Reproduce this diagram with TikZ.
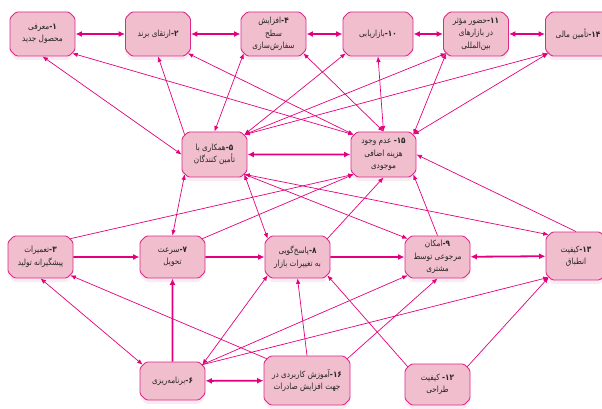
\documentclass[tikz,border=0pt]{standalone}
\usepackage{fontspec}
\usetikzlibrary{arrows.meta, shapes.misc, shadows}
\newfontfamily\arabicfont[Script=Arabic, FakeStretch=0.86]{DejaVu Sans}
\TeXXeTstate=1
\definecolor{boxfill}{RGB}{240,190,205}
\definecolor{boxline}{RGB}{222,40,140}
\definecolor{linkcol}{RGB}{228,0,124}
\newcommand{\fa}[1]{\beginR #1\endR}
\newcommand{\nr}[1]{\textbf{\beginL #1\endL-}}

\begin{document}
\begin{tikzpicture}[x=1pt, y=-1pt, >={Latex[length=5.5pt,width=4.5pt]},
    factor/.style={chamfered rectangle, chamfered rectangle xsep=3pt,
        chamfered rectangle ysep=3pt, rounded corners=1.5pt,
        draw=boxline, fill=boxfill, line width=0.9pt,
        minimum width=65pt, minimum height=44pt, inner sep=1pt,
        align=center, text=black!85,
        font=\arabicfont\fontsize{8.5}{12.5}\selectfont,
        drop shadow={shadow xshift=0pt, shadow yshift=-4pt, fill=boxfill, opacity=.3}},
    mainlink/.style={line width=1.8pt, linkcol, >={Latex[length=6.5pt,width=6pt]}},
    sidelink/.style={line width=0.7pt, linkcol}]
    \useasboundingbox (0,0) rectangle (602,409);

    % top row
    \node[factor] (n1) at (42.5,34) {\fa{\nr{۱}معرفی}\\\fa{محصول جدید}};
    \node[factor] (n2) at (158,34) {\fa{\nr{۲}ارتقای برند}};
    \node[factor] (n4) at (273.5,34) {\fa{\nr{۴}افزایش}\\\fa{سطح}\\\fa{سفارش‌سازی}};
    \node[factor, minimum width=70pt] (n10) at (378,34) {\fa{\nr{۱۰}بازاریابی}};
    \node[factor] (n11) at (476,34) {\fa{\nr{۱۱}حضور مؤثر}\\\fa{در بازارهای}\\\fa{بین‌المللی}};
    \node[factor] (n14) at (578,34) {\fa{\nr{۱۴}تأمین مالی}};

    % middle row
    \node[factor, minimum height=45pt] (n5) at (214.5,154.5) {\fa{\nr{۵}همکاری با}\\\fa{تأمین کنندگان}};
    \node[factor, minimum height=45pt] (n15) at (383.5,154.5) {\fa{\nr{۱۵} عدم وجود}\\\fa{هزینه اضافی}\\\fa{موجودی}};

    % third row
    \node[factor, minimum height=42pt] (n3) at (40.5,257) {\fa{\nr{۳}تعمیرات}\\\fa{پیشگیرانه تولید}};
    \node[factor, minimum height=42pt] (n7) at (172.5,257) {\fa{\nr{۷}سرعت}\\\fa{تحویل}};
    \node[factor, minimum height=42pt] (n8) at (297.5,257) {\fa{\nr{۸}پاسخ‌گویی}\\\fa{به تغییرات بازار}};
    \node[factor, minimum height=42pt] (n9) at (437.5,257) {\fa{\nr{۹}امکان}\\\fa{مرجوعی توسط}\\\fa{مشتری}};
    \node[factor, minimum width=60pt, minimum height=48pt] (n13) at (576,256) {\fa{\nr{۱۳}کیفیت}\\\fa{انطباق}};

    % bottom row
    \node[factor, minimum height=38pt] (n6) at (172.5,381) {\fa{\nr{۶}برنامه‌ریزی}};
    \node[factor, minimum width=86pt, minimum height=49pt] (n16) at (307,380.5) {\fa{\nr{۱۶}آموزش کاربردی در}\\\fa{جهت افزایش صادرات}};
    \node[factor, minimum height=41pt] (n12) at (437.5,384.5) {\fa{\nr{۱۲} کیفیت}\\\fa{طراحی}};

    % neighbour links
    \draw[mainlink, <->] (n1) -- (n2);
    \draw[mainlink, <->] (n2) -- (n4);
    \draw[mainlink, <->] (n4) -- (n10);
    \draw[mainlink, <->] (n10) -- (n11);
    \draw[mainlink, <->] (n11) -- (n14);
    \draw[mainlink, <->] (n5) -- (n15);
    \draw[mainlink, ->] (n3) -- (n7);
    \draw[mainlink, ->] (n7) -- (n8);
    \draw[mainlink, ->] (n8) -- (n9);
    \draw[mainlink, <->] (n9) -- (n13);
    \draw[mainlink, ->] (n6) -- (n7);
    \draw[mainlink, <->] (n6) -- (n16);

    % upper links
    \draw[sidelink, <->] (n5.west) -- (n1.south);
    \draw[sidelink, <->] (n15.north west) -- (n1.south east);
    \draw[sidelink, ->] (n5.north west) -- (n2.south);
    \draw[sidelink, <->] (n15.north west) -- (n2.south east);
    \draw[sidelink, <->] (n5.north) -- (n4.south west);
    \draw[sidelink, <->] (n15.north) -- (n4.south east);
    \draw[sidelink, <->] (n5.north east) -- (n10.south west);
    \draw[sidelink, <->] (n15.north) -- (n10.south);
    \draw[sidelink, <->] (n15.north east) -- (n11.south west);
    \draw[sidelink, <->] (n15.north east) -- (n14.south west);
    \draw[sidelink, <->] (n5.north east) -- (n11.south west);
    \draw[sidelink, <->] (n5.north east) -- (n14.south west);

    % lower links
    \draw[sidelink, <->] (n5.south west) -- (n7.north);
    \draw[sidelink, <->] (n5.south east) -- (n8.north west);
    \draw[sidelink, ->] (n5.south east) -- (n9.north west);
    \draw[sidelink, <->] (n5.south east) -- (n13.north west);
    \draw[sidelink, ->] (n3.north east) -- (n15.south west);
    \draw[sidelink, ->] (n7.north east) -- (n15.south west);
    \draw[sidelink, ->] (n8.north east) -- (n15.south);
    \draw[sidelink, ->] (n9.north) -- (n15.south east);
    \draw[sidelink, ->] (n13.north) -- (n15.east);

    % links from the bottom row
    \draw[sidelink, <->] (n6.north west) -- (n3.south);
    \draw[sidelink, ->] (n16.north west) -- (n3.south east);
    \draw[sidelink, <->] (n6.north east) -- (n8.south west);
    \draw[sidelink, ->] (n6.north east) -- (n9.south west);
    \draw[sidelink, ->] (n6.north east) -- (n13.south west);
    \draw[sidelink, ->] (n16.north) -- (n8.south);
    \draw[sidelink, ->] (n16.north east) -- (n9.south);
    \draw[sidelink, ->] (n12.north west) -- (n8.south east);
    \draw[sidelink, ->] (n12.north east) -- (n13.south west);
\end{tikzpicture}
\end{document}
